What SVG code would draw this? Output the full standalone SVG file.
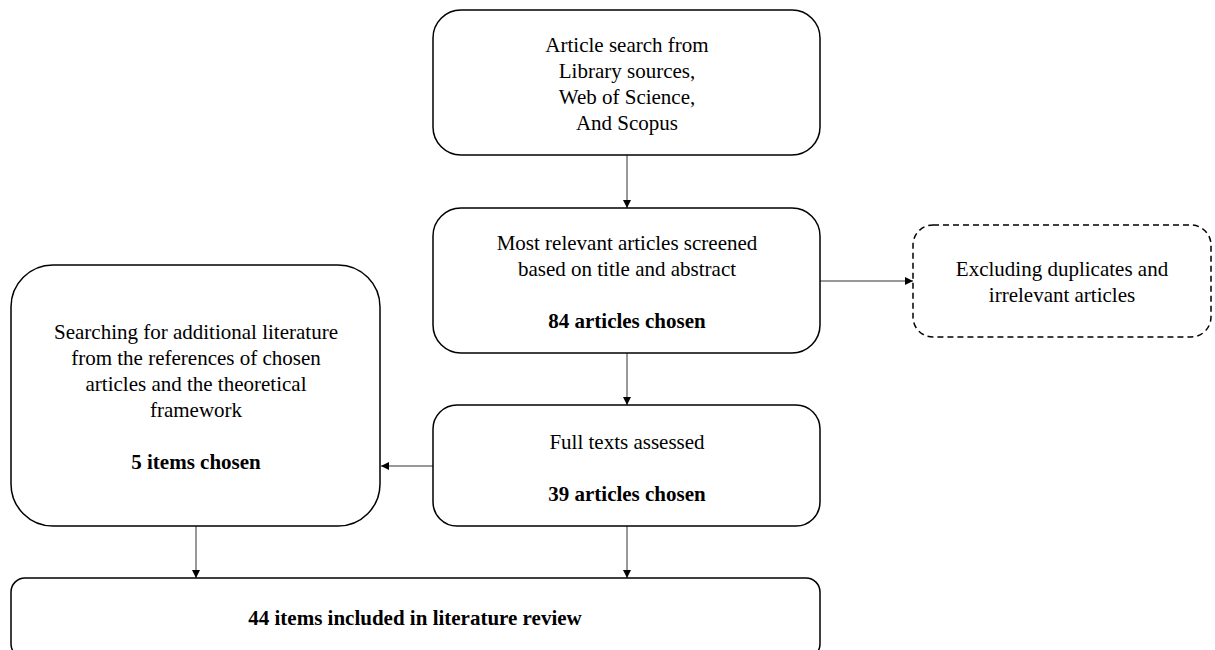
<svg xmlns="http://www.w3.org/2000/svg" width="1215" height="650" viewBox="0 0 1215 650">
<defs>
<marker id="ah" viewBox="0 0 10 10" refX="10" refY="5" markerWidth="9" markerHeight="8" markerUnits="userSpaceOnUse" orient="auto">
<path d="M0,0 L10,5 L0,10 Z" fill="#000"/>
</marker>
</defs>
<style>
.box{fill:#fff;stroke:#000;stroke-width:1.5}
.dash{fill:#fff;stroke:#000;stroke-width:1.5;stroke-dasharray:6,4}
.t{font-family:"Liberation Serif","Times New Roman",serif;font-size:21px;text-anchor:middle;fill:#000}
.b{font-weight:bold}
.c{stroke:#333;stroke-width:1;fill:none;marker-end:url(#ah)}
</style>
<rect width="1215" height="650" fill="#fff"/>
<g id="connectors">
<line class="c" x1="627" y1="155" x2="627" y2="208"/>
<line class="c" x1="820" y1="281" x2="913" y2="281"/>
<line class="c" x1="627" y1="353" x2="627" y2="405"/>
<line class="c" x1="433" y1="466" x2="381" y2="466"/>
<line class="c" x1="196" y1="526" x2="196" y2="578"/>
<line class="c" x1="627" y1="526" x2="627" y2="578"/>
</g>
<g id="n1">
<rect class="box" x="433" y="10" width="387" height="145" rx="28"/>
<text class="t" x="627" y="52">Article search from</text>
<text class="t" x="627" y="78">Library sources,</text>
<text class="t" x="627" y="104">Web of Science,</text>
<text class="t" x="627" y="130">And Scopus</text>
</g>
<g id="n2">
<rect class="box" x="433" y="208" width="387" height="145" rx="28"/>
<text class="t" x="627" y="250">Most relevant articles screened</text>
<text class="t" x="627" y="276">based on title and abstract</text>
<text class="t b" x="627" y="328">84 articles chosen</text>
</g>
<g id="n3">
<rect class="dash" x="913" y="225" width="298" height="112" rx="20"/>
<text class="t" x="1062" y="276">Excluding duplicates and</text>
<text class="t" x="1062" y="302">irrelevant articles</text>
</g>
<g id="n4">
<rect class="box" x="433" y="405" width="387" height="121" rx="24"/>
<text class="t" x="627" y="449">Full texts assessed</text>
<text class="t b" x="627" y="501">39 articles chosen</text>
</g>
<g id="n5">
<rect class="box" x="11" y="265" width="369" height="261" rx="42"/>
<text class="t" x="196" y="339">Searching for additional literature</text>
<text class="t" x="196" y="365">from the references of chosen</text>
<text class="t" x="196" y="391">articles and the theoretical</text>
<text class="t" x="196" y="417">framework</text>
<text class="t b" x="196" y="469">5 items chosen</text>
</g>
<g id="n6">
<rect class="box" x="11" y="578" width="809" height="80" rx="14"/>
<text class="t b" x="415" y="625">44 items included in literature review</text>
</g>
</svg>
